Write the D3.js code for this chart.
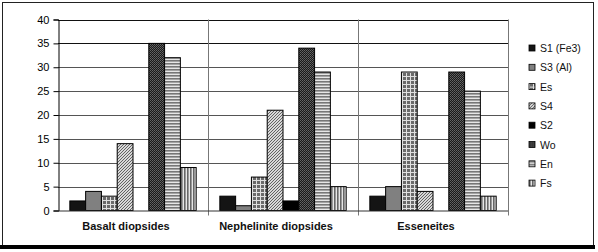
<!DOCTYPE html>
<html>
<head>
<meta charset="utf-8">
<script src="https://cdn.jsdelivr.net/npm/d3@7"></script>
<style>
  body { margin: 0; background: #fff; }
  svg { display: block; }
</style>
</head>
<body>
<svg width="598" height="252"></svg>
<script>
// categories, series and values
const categories = ['Basalt diopsides', 'Nephelinite diopsides', 'Esseneites'];
const series = ['S1 (Fe3)', 'S3 (Al)', 'Es', 'S4', 'S2', 'Wo', 'En', 'Fs'];
const s1 = [2, 3, 3];
const s3 = [4, 1, 5];
const es = [3, 7, 29];
const s4 = [14, 21, 4];
const s2 = [0, 2, 0];
const wo = [35, 34, 29];
const en = [32, 29, 25];
const fs = [9, 5, 3];
const yTicks = [0, 5, 10, 15, 20, 25, 30, 35, 40];

const values = [s1, s3, es, s4, s2, wo, en, fs];

const svg = d3.select('svg');
const defs = svg.append('defs');

// fill patterns that mimic the old excel ones
function pat(id, w, h, draw) {
  const p = defs.append('pattern').attr('id', id)
    .attr('patternUnits', 'userSpaceOnUse')
    .attr('width', w).attr('height', h);
  draw(p);
}
pat('pEs', 4, 4, p => {
  p.append('rect').attr('width', 4).attr('height', 4).attr('fill', '#6a6a6a');
  p.append('rect').attr('x', 0).attr('y', 0).attr('width', 4).attr('height', 1).attr('fill', '#e0e0e0');
  p.append('rect').attr('x', 0).attr('y', 0).attr('width', 1).attr('height', 4).attr('fill', '#e0e0e0');
});
pat('pS4', 3, 3, p => {
  p.append('rect').attr('width', 3).attr('height', 3).attr('fill', '#d8d8d8');
  p.append('path').attr('d', 'M0,3 L3,0 M-1,1 L1,-1 M2,4 L4,2').attr('stroke', '#555').attr('stroke-width', 0.9);
});
pat('pWo', 2, 2, p => {
  p.append('rect').attr('width', 2).attr('height', 2).attr('fill', '#1a1a1a');
  p.append('rect').attr('x', 0).attr('y', 0).attr('width', 1).attr('height', 1).attr('fill', '#666');
  p.append('rect').attr('x', 1).attr('y', 1).attr('width', 1).attr('height', 1).attr('fill', '#555');
});
pat('pEn', 3, 3, p => {
  p.append('rect').attr('width', 3).attr('height', 3).attr('fill', '#e6e6e6');
  p.append('rect').attr('width', 3).attr('height', 1.6).attr('fill', '#777');
});
pat('pFs', 3, 3, p => {
  p.append('rect').attr('width', 3).attr('height', 3).attr('fill', '#e6e6e6');
  p.append('rect').attr('width', 1.6).attr('height', 3).attr('fill', '#666');
});
const fills = ['#141414', '#808080', 'url(#pEs)', 'url(#pS4)', '#000', 'url(#pWo)', 'url(#pEn)', 'url(#pFs)'];

// outer frame
svg.append('rect').attr('x', 2.5).attr('y', 2.5).attr('width', 591).attr('height', 243)
  .attr('fill', 'none').attr('stroke', '#222').attr('stroke-width', 1);
svg.append('rect').attr('x', 0).attr('y', 245).attr('width', 595).attr('height', 4).attr('fill', '#000');

const plotL = 58, plotR = 508, plotT = 19.5, plotB = 210.5;

const y = d3.scaleLinear().domain([0, 40]).range([plotB, plotT]);
const x0 = d3.scaleBand().domain(categories).range([plotL, plotR]).paddingInner(0).paddingOuter(0);
const bw = x0.bandwidth() / 9.5; // gap width 150%
const x1 = d3.scaleBand().domain(series).range([bw * 0.75, x0.bandwidth() - bw * 0.75]).padding(0);

const g = svg.append('g');

// gridlines
g.selectAll('.grid').data(yTicks.filter(d => d > 0)).enter().append('line')
  .attr('x1', plotL).attr('x2', plotR)
  .attr('y1', d => Math.round(y(d)) + 0.5).attr('y2', d => Math.round(y(d)) + 0.5)
  .attr('stroke', d => d >= 35 ? '#111' : '#555').attr('stroke-width', 1);

// category separators
g.selectAll('.sep').data(categories.slice(1).concat(['end'])).enter().append('line')
  .attr('x1', (d, i) => Math.round(plotL + x0.bandwidth() * (i + 1)) + 0.5)
  .attr('x2', (d, i) => Math.round(plotL + x0.bandwidth() * (i + 1)) + 0.5)
  .attr('y1', plotT).attr('y2', plotB + 5)
  .attr('stroke', '#777').attr('stroke-width', 1);

// bars
const groups = g.selectAll('.cat').data(categories).enter().append('g')
  .attr('transform', d => `translate(${x0(d)},0)`);
groups.selectAll('rect')
  .data((c, ci) => series.map((s, si) => ({ s, si, v: values[si][ci] })).filter(d => d.v > 0))
  .enter().append('rect')
  .attr('x', d => x1(d.s))
  .attr('y', d => y(d.v))
  .attr('width', x1.bandwidth())
  .attr('height', d => y(0) - y(d.v))
  .attr('fill', d => fills[d.si])
  .attr('stroke', '#000').attr('stroke-width', 1);

// y axis
const yAxis = d3.axisLeft(y).tickValues(yTicks).tickSize(5).tickPadding(4);
const ya = svg.append('g').attr('transform', `translate(${plotL + 0.5},0)`).call(yAxis);
ya.select('.domain').attr('stroke', '#000');
ya.selectAll('.tick line').attr('stroke', '#000');
ya.selectAll('text').attr('font-family', 'Arial, "Liberation Sans", sans-serif')
  .attr('font-size', 11).attr('fill', '#000');

// x axis line
svg.append('line').attr('x1', plotL).attr('x2', plotR)
  .attr('y1', plotB + 0.5).attr('y2', plotB + 0.5).attr('stroke', '#333');

// category labels (sit a little left of centre in the original)
svg.selectAll('.clab').data(categories).enter().append('text')
  .attr('x', d => x0(d) + x0.bandwidth() / 2 - 7).attr('y', 230)
  .attr('text-anchor', 'middle')
  .attr('font-family', 'Arial, "Liberation Sans", sans-serif')
  .attr('font-size', 11).attr('font-weight', 'bold').attr('fill', '#111')
  .text(d => d);

// legend
const leg = svg.selectAll('.leg').data(series).enter().append('g')
  .attr('transform', (d, i) => `translate(529,${48 + i * 19.3})`);
leg.append('rect').attr('x', 0).attr('y', -3).attr('width', 6).attr('height', 6)
  .attr('fill', (d, i) => fills[i]).attr('stroke', '#000').attr('stroke-width', 0.8);
leg.append('text').attr('x', 11).attr('y', 4)
  .attr('font-family', 'Arial, "Liberation Sans", sans-serif')
  .attr('font-size', 10.5).attr('fill', '#111')
  .text(d => d);
</script>
</body>
</html>
